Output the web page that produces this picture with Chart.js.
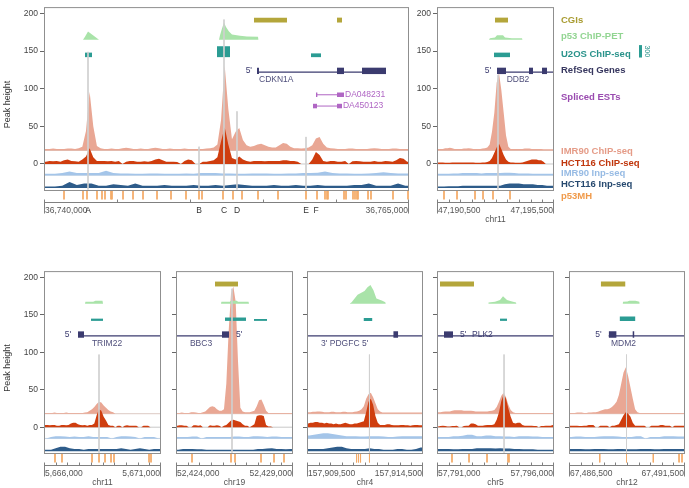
<!DOCTYPE html>
<html><head><meta charset="utf-8">
<script src="https://cdn.jsdelivr.net/npm/chart.js@4.4.1/dist/chart.umd.min.js"></script>
<style>
html,body{margin:0;padding:0;background:#fff}
body{width:689px;height:488px;overflow:hidden;position:relative}
canvas{position:absolute}
</style></head><body>
<script>
// ================= DATA =================
const yTickValues = [0, 50, 100, 150, 200];
const legendLabels = ['CGIs','p53 ChIP-PET','U2OS ChIP-seq','RefSeq Genes','Spliced ESTs','IMR90 ChIP-seq','HCT116 ChIP-seq','IMR90 Inp-seq','HCT116 Inp-seq','p53MH'];
const u2osScaleBar = '300';
const smallChipBin = 100, smallInpBin = 200;

// ---- CDKN1A (top left) ----
const cdkn1aRange = [36740000, 36765000];
const cdkn1aChipBin = 250, cdkn1aInpBin = 500;
const cdkn1aImr90Chip = [2,2,2.5,2,2,2,2.5,2.5,2,3, 5,26,78,32,6, 3,2,2,2.5,2,2,3,3.5,3,2,2,2.5,2,2,3,
  3.5,3,2,2,2.5,2,2,2,2.5,2,2,2,2,2,2.5,3,4, 8,40,113,55,15, 25,30,14,7,5, 6,8,9,7,5,4,4, 7,10,9,5, 3,3,2.5,3,4,
  7,16,18,9,4, 3,2.5,2,2,2,2.5,2.5,2,2,2,2,2.5,3,2.5,2,2,2,2.5,2.5,2,2,2];
const cdkn1aHct116Chip = [3,4,3.5,4,3,5,6,4,3.5,3, 6,10,21,9,4, 4,4,3.5,4,3,4,0,3,4,4,3,3,3.5,3,4,
  6,7,5,3,3,3,2.5,0,4,6,5,0,0,3,3,4,5, 9,30,49,26,8, 6,10,6,4,3, 4,4,4,3.5,4,4,4, 4,5,5,4, 4,3,0,0,0,
  6,16,12,4,3, 4,4,3,3,4,0,3.5,4,3.5,3,3,3,4,3,3,4,3.5,3,5,8,7,3];
const cdkn1aImr90Inp = [2,2,3,5,3,3,3,3,6,3, 2.5,2.5,2,2,2.5,2.5,2,2,2,2.5, 2,3,3,3,2.5,2.5,2,2,2.5,2.5,
  2.5,2,2,2.5,2.5,3,3,3.5,5,3, 2.5,2.5,2,2,2.5,3,4,3,2.5,2.5];
const cdkn1aHct116Inp = [2,2,3,8,4,6,6,3,3,5, 4,3,6,3,3,3,4,3,3,3, 4,3,3,4,3,4,5,4,3,3,
  3,4,3,3,4,3,3,4,3,3, 3,3,4,4,6,3,3,3,6,3];
const cdkn1aCgi = [[36754383,36756643],[36760068,36760410]];
const cdkn1aPet = [[36742671,0],[36742808,4],[36743014,11],[36743288,7],[36743562,3],[36743767,0],
  [36751986,0],[36752055,6],[36752192,15],[36752328,23],[36752466,17],[36752671,11],[36752876,7],
  [36753424,5.5],[36753904,4.5],[36754657,4],[36754700,0]];
const cdkn1aU2os = [[36742808,36743288,6],[36751849,36752739,14.5],[36758287,36758972,5]];
const cdkn1aGene = [36754588, 36763424];
const cdkn1aExons = [[36754588,36754725],[36760068,36760548],[36761780,36763424]];
const cdkn1aGeneLabels = [[36754314,"5'",'right','line'],[36754657,'CDKN1A','left','below']];
const cdkn1aEstNames = ['DA048231','DA450123'];
const cdkn1aEstSpans = [[36758630,36760548],[36758425,36760410]];
const cdkn1aEstBlocks = [[[36758630,36758740],[36760068,36760548]],[[36758425,36758698],[36760068,36760410]]];
const cdkn1aMarks = [[36743014,149],[36750616,23],[36752328,192],[36753219,70],[36757945,36]];
const cdkn1aP53mh = [36741370,36742671,36742945,36743630,36743972,36744178,36744589,36744657,36745411,36746096,
  36746781,36747740,36748699,36749726,36750616,36750822,36752260,36752945,36753562,36754657,36756027,36757945,
  36758699,36759246,36759384,36759452,36760548,36760685,36761164,36761301,36761438,36761507,36762192,36762397,
  36763904,36764932];
const cdkn1aAxisTicks = [36745000,36750000,36755000,36760000];
const cdkn1aAxisLabels = [[36740000,'36,740,000','left'],[36743014,'A','center'],[36750616,'B','center'],
  [36752328,'C','center'],[36753219,'D','center'],[36757945,'E','center'],[36758630,'F','center'],
  [36765000,'36,765,000','right']];

// ---- DDB2 (top right) ----
const ddb2Range = [47190500, 47195500];
const ddb2Imr90Chip = [2,2,2,3,3,3.5,3,2,2,2,2,2.5,2.5,3,2.5,2,2,2,2,2.5,3,4, 8,25,50,90,103,80,50,20,5,2,
  2,2,2,2,2,2.5,2.5,2.5,2,2,2,2,2,1.5,1.5,1.5,1.5,1.5];
const ddb2Hct116Chip = [2,2,2,1.5,1.5,1.5,2,2,2,2,2,2,2,2,2,2,1.5,1.5,1.5,2,2,2.5,4, 8,15,22,27,20,12,6,3,
  2,2,1.5,1.5,1.5,2,3, 4,5,6,6,6,5,5,3, 0,0,0,0];
const ddb2Imr90Inp = [2,2,2,2.5,2.5,3,3,3,3,2.5,3,3,3,3,3.5,3.5,3,2.5,2.5,2.5,2,2,2,2,2];
const ddb2Hct116Inp = [2,2,2.5,2.5,2.5,3,3,3,3,3,3,3,3,3,5,6,6,6,5,5,5,4,4,3,3];
const ddb2Cgi = [[47192979,47193535]];
const ddb2Pet = [[47192722,0],[47192760,2],[47192979,3],[47193064,6],[47193321,6],[47193406,3],[47193700,2],[47194133,2],[47194160,0]];
const ddb2U2os = [[47192936,47193620,6]];
const ddb2Gene = [47193064, 47195500];
const ddb2Exons = [[47193064,47193449],[47194432,47194603],[47194988,47195201]];
const ddb2GeneLabels = [[47192851,"5'",'right','line'],[47193962,'DDB2','center','below']];
const ddb2Marks = [[47193107,118]];
const ddb2P53mh = [47190799,47191355,47192124,47192466,47192893,47193620];
const ddb2AxisTicks = [47191000,47191500,47192000,47192500,47193000,47193500,47194000,47194500,47195000];
const ddb2AxisLabels = [[47190500,'47,190,500','left'],[47195500,'47,195,500','right']];

// ---- TRIM22 ----
const trim22Range = [5666000, 5671000];
const trim22Imr90Chip = [1,1,1,1,1.5,1,1,1,1,1.5,1,1,1,1,1,1,1,1.5, 2,4,6,9,13,16,15,11,8,5,3,2,
  0,0,0,0,0,0,0,0,0,0,0,0,0,0,0,0,0,0,0,0];
const trim22Hct116Chip = [3,3,2.5,3,3,2,2,3,3,2.5,3, 5,6,6,4, 3,2.5,3,2,3,3, 5,16,24,22,14,9,3,
  2,2,0,2,2,0, 2,2.5,2,2,2,2,0,0, 2,2,2,0,0,0,0,0];
const trim22Imr90Inp = [0,2,3,3,2.5,2,2.5,2,2,3,2,2,2,2,0,2,3,3,2.5,2,0,2,2,2,0];
const trim22Hct116Inp = [2,2,4,6,6,4,3,3,2,3,3,3,3,3,3,3,4,3,2,3,4,3,2,3,3];
const trim22Cgi = [];
const trim22Pet = [[5667752,0],[5667770,2.5],[5668100,2.5],[5668200,4],[5668500,4],[5668522,0]];
const trim22U2os = [[5668009,5668522,3]];
const trim22Gene = [5667453, 5671000];
const trim22Exons = [[5667453,5667710]];
const trim22GeneLabels = [[5667197,"5'",'right','line'],[5668693,'TRIM22','center','below']];
const trim22Marks = [[5668351,97]];
const trim22P53mh = [5666470,5666769,5668052,5668351,5668607,5668864,5668992,5670488,5670573];
const trim22AxisTicks = [5666500,5667000,5667500,5668000,5668500,5669000,5669500,5670000,5670500];
const trim22AxisLabels = [[5666000,'5,666,000','left'],[5671000,'5,671,000','right']];

// ---- BBC3 ----
const bbc3Range = [52424000, 52429000];
const bbc3Imr90Chip = [1,1,1.5,1,1,1,2,2,1.5,1,1,2,3, 6,9,10,9,6,4,4,6, 40,110,160,170,150,70,8,
  3,2,2,2,3, 4,10,18,19,12,4, 1,1,1,1,1,1,1,1,1,1,1];
const bbc3Hct116Chip = [2,2.5,2.5,2,2,0,0,2.5,2.5,2,2.5,0,0,0,2.5,2,2,2.5,2, 0,2, 3,6,9,10,9,8,7,4,
  2,2,0,2, 4,15,16,16,15,3, 1,1,0,0,0,0,0,0,0,0,0];
const bbc3Imr90Inp = [2,2,2,2.5,2.5,0,2,2,2,2,2,2,2.5,2.5,2,2,3,3,2.5,2,2.5,2.5,2,2,2];
const bbc3Hct116Inp = [2,3,3,3,2.5,2.5,2,2,2,2,2,2,2,2,2,2,2,3,3,3.5,4,3,3,2.5,3];
const bbc3Cgi = [[52425667,52426650]];
const bbc3Pet = [[52425923,0],[52425940,2.5],[52426300,2.5],[52426350,4],[52426600,4],[52426650,2.5],[52427100,2.5],[52427120,0]];
const bbc3U2os = [[52426094,52426991,4.5],[52427333,52427889,2.5]];
const bbc3Gene = [52424000, 52426265];
const bbc3Exons = [[52425966,52426265]];
const bbc3GeneLabels = [[52426522,"5'",'left','line'],[52425069,'BBC3','center','below']];
const bbc3Marks = [[52426393,185]];
const bbc3P53mh = [52424684,52426351,52426522,52427633,52428189,52428616];
const bbc3AxisTicks = [52424500,52425000,52425500,52426000,52426500,52427000,52427500,52428000,52428500];
const bbc3AxisLabels = [[52424000,'52,424,000','left'],[52429000,'52,429,000','right']];

// ---- PDGFC ----
const pdgfcRange = [157909500, 157914500];
const pdgfcImr90Chip = [2,2,2.5,2.5,3,3,2.5,2,2,2,2.5,2.5,2,2,2,2.5,2.5,2,2,2,2.5,3, 4,6,10,20,26,28,22,14,6,3,
  1.5,1.5,1.5,1.5,1.5,1.5,1.5,1.5,1.5,1.5,1.5,1.5,1.5,1.5,1.5,1.5,1.5,1.5];
const pdgfcHct116Chip = [5,6,6,7,7,6,6,5,6,5,5,4,5,4,4,5,6,5,4,4,5,5,6,7, 8,20,34,38,30,15,6,3,
  3,3,4,4,3,2.5,2.5,2.5,3,3,2.5,2.5,2,2.5,3,3,2.5,2.5];
const pdgfcImr90Inp = [4,5,6,7,7,6,5,4,3,3,3,2.5,2.5,3,3,3,2.5,2,2,2.5,3,3,3,3,3];
const pdgfcHct116Inp = [3,3,3,3,4,5,6,6,4,3,3,3,3,4,3,3,2,2,2,3,3,2,2,3,5];
const pdgfcCgi = [];
const pdgfcPet = [[157911338,0],[157911423,2],[157911680,12],[157911979,17],[157912107,22],[157912235,25],
  [157912364,18],[157912492,7],[157912748,4],[157912876,2],[157912900,0]];
const pdgfcU2os = [[157911936,157912321,4]];
const pdgfcGene = [157909500, 157914500];
const pdgfcExons = [[157913218,157913432]];
const pdgfcGeneLabels = [[157911124,"3' PDGFC 5'",'center','below']];
const pdgfcMarks = [[157912193,97]];
const pdgfcP53mh = [157911637,157911722,157911808,157912193];
const pdgfcAxisTicks = [157910000,157910500,157911000,157911500,157912000,157912500,157913000,157913500,157914000];
const pdgfcAxisLabels = [[157909500,'157,909,500','left'],[157914500,'157,914,500','right']];

// ---- PLK2 ----
const plk2Range = [57791000, 57796000];
const plk2Imr90Chip = [2,2,2.5,3,3,3, 4,4.5,4.5,4.5,4.5,4,4,4,4,3.5, 3,3,3,3,3,3,3.5,4, 5,9,16,24,28,22,12,5,2,
  1,1,1,1,1,1,1,1,1,1,1,1,1,1,1,1,1];
const plk2Hct116Chip = [1,1.5,2,1.5,1,1,1.5,1.5,2,0,0,1.5,2,2,5,5,4,2,2,2,2.5,3,3,3,
  4,10,20,35,44,38,25,14,6,5,6,6,3, 2,2,2,2,1.5,1.5,0,1.5,1.5,2,2,2,3];
const plk2Imr90Inp = [2,2,2,3,3,3.5,5,5,3,3,4,4,3,3,2.5,2.5,2,3,3,3,2.5,2.5,2,2,2];
const plk2Hct116Inp = [3,3,3,2.5,2.5,3,3,3,4,4,4,4,3.5,4,3.5,3.5,3,3,2.5,2.5,2.5,2,2,2,2];
const plk2Cgi = [[57791128,57792581]];
const plk2Pet = [[57793180,0],[57793200,1.5],[57793479,2.5],[57793693,5],[57793821,10],[57793992,5],[57794206,3],[57794376,1.5],[57794400,0]];
const plk2U2os = [[57793693,57793992,3]];
const plk2Gene = [57791000, 57796000];
const plk2Exons = [[57791299,57791684]];
const plk2GeneLabels = [[57791940,"5'",'left','line'],[57792453,'PLK2','left','line']];
const plk2Marks = [[57793864,97]];
const plk2P53mh = [57791641,57792368,57793137,57794035,57794077];
const plk2AxisTicks = [57791500,57792000,57792500,57793000,57793500,57794000,57794500,57795000,57795500];
const plk2AxisLabels = [[57791000,'57,791,000','left'],[57796000,'57,796,000','right']];

// ---- MDM2 ----
const mdm2Range = [67486500, 67491500];
const mdm2Imr90Chip = [1,1,1,1.5,1.5,1.5,1,1,1.5,1.5,2,2,2.5, 4,5,6,6,7,9,12,16,25,40,55,62,50,35,20,6,2,
  1,1,1,1,1,1,1,1,1,1,1,1,1,1,1,1,1,1,1,1];
const mdm2Hct116Chip = [2,2,2,2,1.5,1.5,2,2,3,3,3,0,0,2,2,2,2,0,2,2,3, 4,10,16,20,18,14,6,2,
  2,2,2,2,0,0,2,2,2,2,3,3,2,2,2,0,2,2,2,2,2];
const mdm2Imr90Inp = [2,2.5,2.5,2,2,2,2.5,3,3,3,2.5,2,2,2,3,3,0,2,2,2,3,3,3,2.5,2.5];
const mdm2Hct116Inp = [3,3,3,2.5,2.5,3,3,3,2.5,2.5,3,3,2.5,2.5,2.5,3,3,3,2.5,2.5,3,3,3,3,3];
const mdm2Cgi = [[67487868,67488936]];
const mdm2Pet = [[67488808,0],[67488830,2.5],[67489022,3],[67489100,4],[67489364,4],[67489535,2.5],[67489550,0]];
const mdm2U2os = [[67488680,67489364,6]];
const mdm2Gene = [67488210, 67491500];
const mdm2Exons = [[67488210,67488552],[67489235,67489321]];
const mdm2GeneLabels = [[67487953,"5'",'right','line'],[67488851,'MDM2','center','below']];
const mdm2Marks = [[67488979,97]];
const mdm2P53mh = [67487825,67488979,67490133,67491244,67491372];
const mdm2AxisTicks = [67487000,67487500,67488000,67488500,67489000,67489500,67490000,67490500,67491000];
const mdm2AxisLabels = [[67486500,'67,486,500','left'],[67491500,'67,491,500','right']];

// ================= STYLE / LAYOUT =================
const FONT = '"Liberation Sans", Arial, sans-serif';
const C = {cgi:'#b4a63b', pet:'#a9e3a9', u2os:'#2b9c93', gene:'#3b3b6f', geneText:'#50507c', est:'#b066c4',
  imrChip:'#e9a794', hctChip:'#cf3d0e', imrInp:'#a4c5e9', hctInp:'#2e5c8a', mh:'#f4ab68',
  mark:'rgba(208,208,208,0.9)', frame:'#8f8f8f'};
const legendColors = ['#a99c32','#92d592','#2a938b','#37375f','#9a4bb0','#e59c88','#c0360c','#97bbe4','#26496f','#f09a4a'];
const legendLevels = [191,170,146,124,88,17,1,-13,-27.5,-43];
const LV = {yMin:-50.5, yMax:208.5, frameBottom:-34, cgi:[188,194.5], petBase:165, u2osBase:142, geneY:122,
  exon:[119.5,128], geneLabelY:112, estH:3, estY:[92,77], imrChip:18, hctChip:0, imrInp:-15, hctInp:-32, mh:[-35.5,-47]};

Chart.defaults.font.family = FONT;
Chart.defaults.elements.point.radius = 0;
Chart.defaults.elements.point.hoverRadius = 0;

function withDefaults(d){ return Object.assign({borderColor:'rgba(0,0,0,0)', borderWidth:0, fill:false, pointRadius:0, spanGaps:false}, d); }
function hline(range, yv, color){ return withDefaults({data:[{x:range[0],y:yv},{x:range[1],y:yv}], borderColor:color, borderWidth:1}); }
function signal(values, range, bin, base, color){
  const pts = values.map((v,i)=>({x: range[0] + bin*(i+0.5), y: base + v}));
  pts.unshift({x:range[0], y:base+values[0]});
  pts.push({x:range[1], y:base+values[values.length-1]});
  return withDefaults({data:pts, fill:{value:base}, backgroundColor:color});
}
function box(s, e, y0, y1, color){ return withDefaults({data:[{x:s,y:y1},{x:e,y:y1}], fill:{value:y0}, backgroundColor:color}); }
function segs(list, color, width){
  const data = [];
  list.forEach(([x1,y1,x2,y2]) => { data.push({x:x1,y:y1},{x:x2,y:y2},{x:x2,y:null}); });
  return withDefaults({data, borderColor:color, borderWidth:width});
}

function buildDatasets(p){
  const ds = [];
  ds.push(hline(p.range, LV.imrChip, '#dcc9c3'));
  ds.push(hline(p.range, LV.hctChip, '#c9c9c9'));
  ds.push(hline(p.range, LV.imrInp, '#c3d2e3'));
  ds.push(signal(p.imrChip, p.range, p.chipBin, LV.imrChip, C.imrChip));
  ds.push(signal(p.hctChip, p.range, p.chipBin, LV.hctChip, C.hctChip));
  ds.push(signal(p.imrInp, p.range, p.inpBin, LV.imrInp, C.imrInp));
  ds.push(signal(p.hctInp, p.range, p.inpBin, LV.hctInp, C.hctInp));
  ds.push(withDefaults({data:p.pet.map(([x,v])=>({x, y:LV.petBase+v})), fill:{value:LV.petBase}, backgroundColor:C.pet}));
  p.u2os.forEach(([s,e,h]) => ds.push(box(s, e, LV.u2osBase, LV.u2osBase+h, C.u2os)));
  p.cgi.forEach(([s,e]) => ds.push(box(s, e, LV.cgi[0], LV.cgi[1], C.cgi)));
  ds.push(segs([[p.gene[0], LV.geneY, p.gene[1], LV.geneY]], C.gene, 1.3));
  p.exons.forEach(([s,e]) => ds.push(box(s, e, LV.exon[0], LV.exon[1], C.gene)));
  (p.estSpans||[]).forEach((sp,i) => {
    const yv = LV.estY[i];
    ds.push(segs([[sp[0], yv, sp[1], yv]], C.est, 1));
    p.estBlocks[i].forEach(([s,e]) => ds.push(box(s, e, yv-LV.estH, yv+LV.estH, C.est)));
  });
  ds.push(segs(p.mh.map(v => [v, LV.mh[0], v, LV.mh[1]]), C.mh, 1));
  ds.push(segs(p.marks.map(([v,t]) => [v, t, v, LV.frameBottom]), C.mark, 1));
  ds.forEach((d,i) => { d.order = ds.length - i; });
  return ds;
}

function makeDecor(p){
  return {
    id: 'decor_' + p.id,
    afterDatasetsDraw(chart){
      const {ctx, chartArea:a, scales:{x, y}} = chart;
      ctx.save();
      const fb = Math.round(y.getPixelForValue(LV.frameBottom));
      ctx.strokeStyle = C.frame; ctx.lineWidth = 1;
      ctx.strokeRect(a.left + 0.5, a.top + 0.5, a.right - a.left - 1, fb - a.top);
      const ab = Math.round(a.bottom) + 0.5;
      ctx.strokeStyle = '#808080';
      ctx.beginPath(); ctx.moveTo(a.left, ab); ctx.lineTo(a.right, ab); ctx.stroke();
      [a.left + 0.5, a.right - 0.5].forEach(px => { ctx.beginPath(); ctx.moveTo(px, ab - 3); ctx.lineTo(px, ab + 11); ctx.stroke(); });
      p.axisTicks.forEach(v => { const px = Math.round(x.getPixelForValue(v)) + 0.5; ctx.beginPath(); ctx.moveTo(px, ab - 3); ctx.lineTo(px, ab); ctx.stroke(); });
      ctx.font = '8.5px ' + FONT; ctx.textBaseline = 'middle';
      p.axisLabels.forEach(([v, t, al]) => {
        let px = x.getPixelForValue(v);
        if (al === 'left') px += 1; if (al === 'right') px -= 1;
        ctx.textAlign = al; ctx.fillStyle = t.length === 1 ? '#333' : '#555';
        ctx.fillText(t, px, ab + 8.5);
      });
      if (p.chr) { ctx.textAlign = 'center'; ctx.fillStyle = '#555'; ctx.fillText(p.chr, (a.left + a.right) / 2, ab + 17); }
      ctx.font = '8.5px ' + FONT;
      p.geneLabels.forEach(([v, t, al, row]) => {
        const px = x.getPixelForValue(v) + (al === 'left' ? 1 : al === 'right' ? -1 : 0);
        const py = y.getPixelForValue(row === 'line' ? LV.geneY + 1.5 : LV.geneLabelY);
        ctx.textAlign = al; ctx.fillStyle = row === 'line' ? C.gene : C.geneText;
        ctx.fillText(t, px, py);
      });
      (p.estNames||[]).forEach((t, i) => {
        ctx.textAlign = 'left'; ctx.fillStyle = C.est;
        ctx.fillText(t, x.getPixelForValue(p.estSpans[i][1]) + 1, y.getPixelForValue(LV.estY[i]));
      });
      if (p.legend) {
        ctx.font = 'bold 9.5px ' + FONT; ctx.textAlign = 'left'; ctx.textBaseline = 'middle';
        legendLabels.forEach((t, i) => { ctx.fillStyle = legendColors[i]; ctx.fillText(t, a.right + 7, y.getPixelForValue(legendLevels[i])); });
        const yb0 = y.getPixelForValue(141.5), yb1 = y.getPixelForValue(158);
        ctx.fillStyle = C.u2os; ctx.fillRect(a.right + 85, yb1, 3, yb0 - yb1);
        ctx.translate(a.right + 92.5, (yb0 + yb1) / 2); ctx.rotate(Math.PI / 2);
        ctx.font = '7px ' + FONT; ctx.textAlign = 'center'; ctx.fillStyle = '#2a938b';
        ctx.fillText(u2osScaleBar, 0, 0);
      }
      ctx.restore();
    }
  };
}

const common = {chipBin: smallChipBin, inpBin: smallInpBin, top: 267, h: 198, padRight: 6, yLabels: false, yTitle: false};
const panels = [
  {id:'cdkn1a', left:44, top:3, w:365, h:199, padRight:11, range:cdkn1aRange, chipBin:cdkn1aChipBin, inpBin:cdkn1aInpBin,
   imrChip:cdkn1aImr90Chip, hctChip:cdkn1aHct116Chip, imrInp:cdkn1aImr90Inp, hctInp:cdkn1aHct116Inp, cgi:cdkn1aCgi, pet:cdkn1aPet,
   u2os:cdkn1aU2os, gene:cdkn1aGene, exons:cdkn1aExons, geneLabels:cdkn1aGeneLabels, estNames:cdkn1aEstNames, estSpans:cdkn1aEstSpans,
   estBlocks:cdkn1aEstBlocks, marks:cdkn1aMarks, mh:cdkn1aP53mh, axisTicks:cdkn1aAxisTicks, axisLabels:cdkn1aAxisLabels, chr:'',
   yLabels:true, yTitle:true},
  {id:'ddb2', left:437, top:3, w:117, h:199, padRight:135, range:ddb2Range, chipBin:smallChipBin, inpBin:smallInpBin,
   imrChip:ddb2Imr90Chip, hctChip:ddb2Hct116Chip, imrInp:ddb2Imr90Inp, hctInp:ddb2Hct116Inp, cgi:ddb2Cgi, pet:ddb2Pet, u2os:ddb2U2os,
   gene:ddb2Gene, exons:ddb2Exons, geneLabels:ddb2GeneLabels, marks:ddb2Marks, mh:ddb2P53mh, axisTicks:ddb2AxisTicks,
   axisLabels:ddb2AxisLabels, chr:'chr11', yLabels:true, yTitle:false, legend:true},
  Object.assign({}, common, {id:'trim22', left:44, range:trim22Range, imrChip:trim22Imr90Chip, hctChip:trim22Hct116Chip, imrInp:trim22Imr90Inp,
   hctInp:trim22Hct116Inp, cgi:trim22Cgi, pet:trim22Pet, u2os:trim22U2os, gene:trim22Gene, exons:trim22Exons, geneLabels:trim22GeneLabels,
   marks:trim22Marks, mh:trim22P53mh, axisTicks:trim22AxisTicks, axisLabels:trim22AxisLabels, chr:'chr11', w:117, yLabels:true, yTitle:true}),
  Object.assign({}, common, {id:'bbc3', left:176, range:bbc3Range, imrChip:bbc3Imr90Chip, hctChip:bbc3Hct116Chip, imrInp:bbc3Imr90Inp,
   hctInp:bbc3Hct116Inp, cgi:bbc3Cgi, pet:bbc3Pet, u2os:bbc3U2os, gene:bbc3Gene, exons:bbc3Exons, geneLabels:bbc3GeneLabels,
   marks:bbc3Marks, mh:bbc3P53mh, axisTicks:bbc3AxisTicks, axisLabels:bbc3AxisLabels, chr:'chr19', w:117}),
  Object.assign({}, common, {id:'pdgfc', left:307, range:pdgfcRange, imrChip:pdgfcImr90Chip, hctChip:pdgfcHct116Chip, imrInp:pdgfcImr90Inp,
   hctInp:pdgfcHct116Inp, cgi:pdgfcCgi, pet:pdgfcPet, u2os:pdgfcU2os, gene:pdgfcGene, exons:pdgfcExons, geneLabels:pdgfcGeneLabels,
   marks:pdgfcMarks, mh:pdgfcP53mh, axisTicks:pdgfcAxisTicks, axisLabels:pdgfcAxisLabels, chr:'chr4', w:116}),
  Object.assign({}, common, {id:'plk2', left:437, range:plk2Range, imrChip:plk2Imr90Chip, hctChip:plk2Hct116Chip, imrInp:plk2Imr90Inp,
   hctInp:plk2Hct116Inp, cgi:plk2Cgi, pet:plk2Pet, u2os:plk2U2os, gene:plk2Gene, exons:plk2Exons, geneLabels:plk2GeneLabels,
   marks:plk2Marks, mh:plk2P53mh, axisTicks:plk2AxisTicks, axisLabels:plk2AxisLabels, chr:'chr5', w:117}),
  Object.assign({}, common, {id:'mdm2', left:569, range:mdm2Range, imrChip:mdm2Imr90Chip, hctChip:mdm2Hct116Chip, imrInp:mdm2Imr90Inp,
   hctInp:mdm2Hct116Inp, cgi:mdm2Cgi, pet:mdm2Pet, u2os:mdm2U2os, gene:mdm2Gene, exons:mdm2Exons, geneLabels:mdm2GeneLabels,
   marks:mdm2Marks, mh:mdm2P53mh, axisTicks:mdm2AxisTicks, axisLabels:mdm2AxisLabels, chr:'chr12', w:116, padRight:4})
];

panels.forEach(p => {
  const cw = 44 + p.w + p.padRight, ch = 3 + p.h + 28;
  const cv = document.createElement('canvas');
  cv.width = cw; cv.height = ch;
  cv.style.left = (p.left - 44) + 'px'; cv.style.top = (p.top - 3) + 'px';
  cv.style.width = cw + 'px'; cv.style.height = ch + 'px';
  document.body.appendChild(cv);
  new Chart(cv.getContext('2d'), {
    type: 'line',
    data: {datasets: buildDatasets(p)},
    options: {
      responsive: false, animation: false, devicePixelRatio: 1, events: [],
      layout: {padding: {left: 0, top: 3, right: p.padRight, bottom: 28}},
      plugins: {legend: {display: false}, tooltip: {enabled: false}},
      scales: {
        x: {type: 'linear', min: p.range[0], max: p.range[1], display: false},
        y: {type: 'linear', min: LV.yMin, max: LV.yMax, position: 'left',
          afterBuildTicks: s => { s.ticks = yTickValues.map(v => ({value: v})); },
          afterFit: s => { s.width = 44; },
          grid: {display: true, drawOnChartArea: false, drawTicks: true, tickLength: 4, color: '#666'},
          border: {display: false},
          ticks: {autoSkip: false, padding: 2, color: '#444', font: {size: 8.5, family: FONT},
            callback: v => p.yLabels ? String(v) : ''},
          title: {display: !!p.yTitle, text: 'Peak height', color: '#333', font: {size: 9, family: FONT}, padding: {top: 2, bottom: 2}}
        }
      }
    },
    plugins: [makeDecor(p)]
  });
});
</script>
</body></html>
